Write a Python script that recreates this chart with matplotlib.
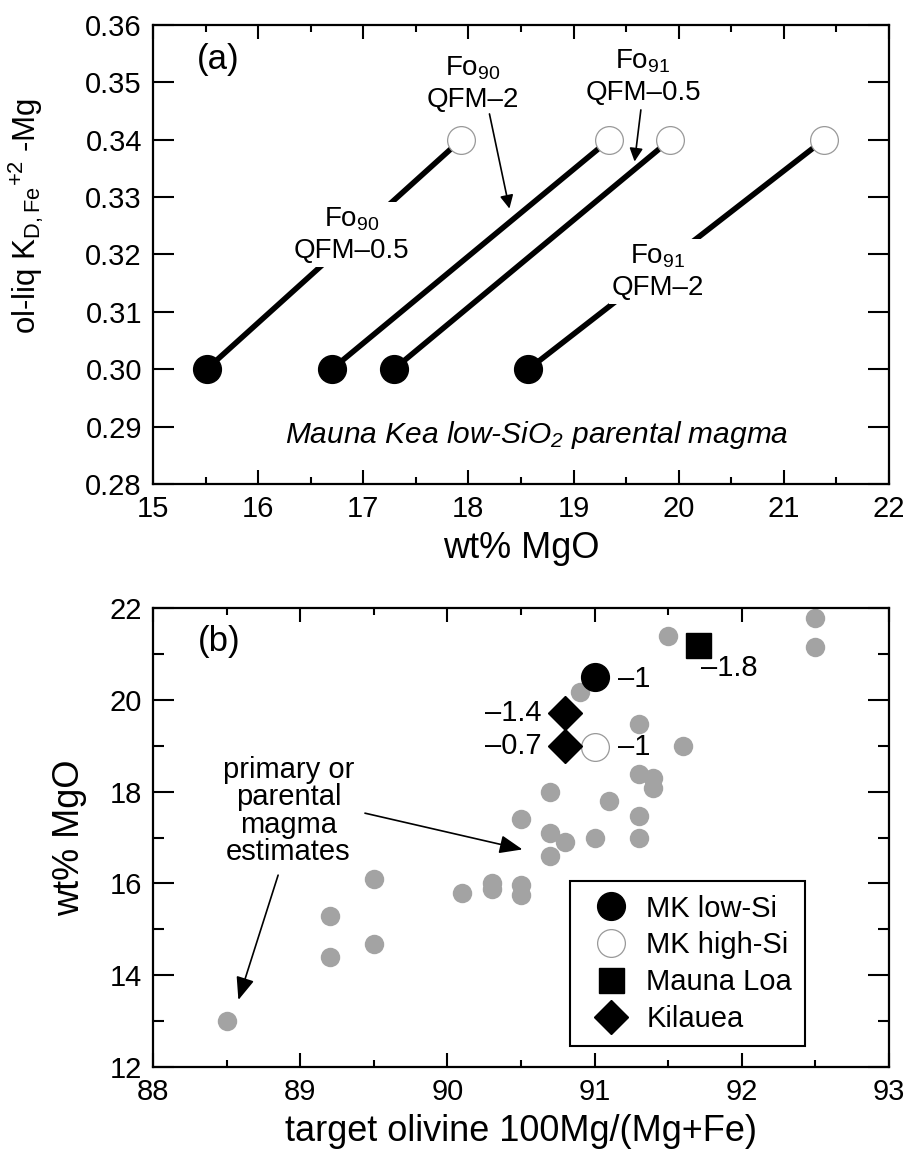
import matplotlib
matplotlib.use("Agg")
import matplotlib.pyplot as plt
from matplotlib.ticker import MultipleLocator, FormatStrFormatter

plt.rcParams["font.family"] = ["Liberation Sans", "DejaVu Sans"]
plt.rcParams["mathtext.fontset"] = "custom"
plt.rcParams["mathtext.rm"] = "Liberation Sans"
plt.rcParams["mathtext.it"] = "Liberation Sans:italic"
plt.rcParams["mathtext.bf"] = "Liberation Sans:bold"
plt.rcParams["mathtext.default"] = "regular"

# ---- panel (a): KD lines, MgO at KD=0.30 (filled) and 0.34 (open)
kd_low = 0.30
kd_high = 0.34
mgo_at_low = [15.51, 16.70, 17.29, 18.57]
mgo_at_high = [17.93, 19.34, 19.92, 21.38]

# labels: (text, x, y)
a_labels = [
    ("Fo$_{90}$\nQFM\u20130.5", 16.89, 0.3234),
    ("Fo$_{90}$\nQFM\u20132", 18.04, 0.3497),
    ("Fo$_{91}$\nQFM\u20130.5", 19.66, 0.3509),
    ("Fo$_{91}$\nQFM\u20132", 19.80, 0.3170),
]
# arrows: (tail x, tail y, tip x, tip y)
a_arrows = [
    (18.20, 0.3445, 18.39, 0.3280),
    (19.64, 0.3452, 19.58, 0.3362),
]

# ---- panel (b): target olivine Fo vs MgO
gray_fo = [91.5, 92.5, 92.5, 90.9, 91.3, 91.6, 91.3, 91.4, 91.4, 90.7,
           91.1, 90.5, 91.3, 90.7, 90.8, 91.0, 91.3, 90.7, 89.5, 90.1,
           90.3, 90.3, 90.5, 90.5, 89.2, 89.2, 89.5, 88.5]
gray_mgo = [21.4, 21.78, 21.15, 20.17, 19.48, 19.0, 18.38, 18.3, 18.07, 18.0,
            17.8, 17.4, 17.47, 17.1, 16.9, 17.0, 17.0, 16.6, 16.09, 15.8,
            16.0, 15.88, 15.97, 15.75, 15.29, 14.4, 14.69, 13.0]

mk_low_fo, mk_low_mgo = [91.0], [20.5]
mk_high_fo, mk_high_mgo = [91.0], [18.97]
mauna_loa_fo, mauna_loa_mgo = [91.7], [21.2]
kilauea_fo, kilauea_mgo = [90.8, 90.8], [19.72, 19.0]

# point labels: (text, x, y, ha)
b_labels = [
    ("\u20131", 91.16, 20.45, "left"),
    ("\u20131.8", 91.72, 20.69, "left"),
    ("\u20131.4", 90.64, 19.72, "right"),
    ("\u20130.7", 90.64, 19.0, "right"),
    ("\u20131", 91.16, 18.97, "left"),
]
b_arrows = [
    (89.44, 17.53, 90.51, 16.74),
    (88.85, 16.18, 88.58, 13.46),
]

W, H = 909, 1155
fig = plt.figure(figsize=(W / 100, H / 100), dpi=100)
ax1 = fig.add_axes([153 / W, 1 - 484 / H, 736 / W, 459 / H])
ax2 = fig.add_axes([153 / W, 1 - 1067 / H, 736 / W, 459 / H])


def style_axes(ax):
    for sp in ax.spines.values():
        sp.set_linewidth(1.6)
    ax.tick_params(which="both", direction="in", top=True, right=True,
                   width=1.5, labelsize=21, pad=8)
    ax.tick_params(axis="x", which="major", length=10)
    ax.tick_params(axis="x", which="minor", length=5)
    ax.tick_params(axis="y", which="major", length=15)
    ax.tick_params(axis="y", which="minor", length=8)


# ---------------- panel (a)
for x0, x1 in zip(mgo_at_low, mgo_at_high):
    ax1.plot([x0, x1], [kd_low, kd_high], color="k", lw=4, solid_capstyle="butt", zorder=2)
ax1.plot(mgo_at_low, [kd_low] * len(mgo_at_low), "o", ms=20, mfc="k", mec="k", zorder=4)
ax1.plot(mgo_at_high, [kd_high] * len(mgo_at_high), "o", ms=20, mfc="white",
         mec="#999999", mew=0.9, zorder=4)

for txt, x, y in a_labels:
    ax1.text(x, y, txt, ha="center", va="center", fontsize=20, linespacing=1.25,
             bbox=dict(facecolor="white", edgecolor="none", pad=2), zorder=3)
for x0, y0, x1, y1 in a_arrows:
    ax1.annotate("", xy=(x1, y1), xytext=(x0, y0),
                 arrowprops=dict(arrowstyle="-|>,head_length=0.4,head_width=0.2",
                                 color="k", lw=1.2, mutation_scale=20,
                                 shrinkA=0, shrinkB=0), zorder=5)

ax1.text(18.65, 0.2885, "Mauna Kea low-SiO$_2$ parental magma", ha="center", va="center",
         fontsize=21.5, style="italic")
ax1.text(0.060, 0.924, "(a)", transform=ax1.transAxes, fontsize=25, va="center")

ax1.set_xlim(15, 22)
ax1.set_ylim(0.28, 0.36)
ax1.xaxis.set_major_locator(MultipleLocator(1))
ax1.xaxis.set_minor_locator(MultipleLocator(0.5))
ax1.yaxis.set_major_locator(MultipleLocator(0.01))
ax1.yaxis.set_major_formatter(FormatStrFormatter("%.2f"))
style_axes(ax1)
ax1.set_xlabel("wt% MgO", fontsize=26, labelpad=6)
ax1.set_ylabel("ol-liq K$_{D,Fe}$$^{+2}$ -Mg", fontsize=22.5)
ax1.yaxis.set_label_coords(-0.145, 0.585)

# ---------------- panel (b)
ax2.plot(gray_fo, gray_mgo, "o", ms=14, color="#a3a3a3", mec="none", zorder=2)
ax2.plot(mk_low_fo, mk_low_mgo, "o", ms=20, mfc="k", mec="k", zorder=4, label="MK low-Si")
ax2.plot(mk_high_fo, mk_high_mgo, "o", ms=20, mfc="white", mec="#999999", mew=0.9,
         zorder=4, label="MK high-Si")
ax2.plot(mauna_loa_fo, mauna_loa_mgo, "s", ms=18, mfc="k", mec="k", zorder=4, label="Mauna Loa")
ax2.plot(kilauea_fo, kilauea_mgo, "D", ms=17, mfc="k", mec="k", zorder=4, label="Kilauea")

for txt, x, y, ha in b_labels:
    ax2.text(x, y, txt, ha=ha, va="center", fontsize=21)
ax2.text(88.92, 17.58, "primary or\nparental\nmagma\nestimates", ha="center", va="center",
         fontsize=21, linespacing=0.98)
for x0, y0, x1, y1 in b_arrows:
    ax2.annotate("", xy=(x1, y1), xytext=(x0, y0),
                 arrowprops=dict(arrowstyle="-|>,head_length=0.7,head_width=0.28",
                                 color="k", lw=1.2, mutation_scale=20,
                                 shrinkA=0, shrinkB=0), zorder=5)
ax2.text(0.061, 0.928, "(b)", transform=ax2.transAxes, fontsize=25, va="center")

ax2.set_xlim(88, 93)
ax2.set_ylim(12, 22)
ax2.xaxis.set_major_locator(MultipleLocator(1))
ax2.xaxis.set_minor_locator(MultipleLocator(0.5))
ax2.yaxis.set_major_locator(MultipleLocator(2))
ax2.yaxis.set_minor_locator(MultipleLocator(1))
style_axes(ax2)
ax2.set_xlabel("target olivine 100Mg/(Mg+Fe)", fontsize=26, labelpad=6)
ax2.set_ylabel("wt% MgO", fontsize=26)
ax2.yaxis.set_label_coords(-0.09, 0.5)

leg = ax2.legend(loc="lower right", bbox_to_anchor=(0.886, 0.046), fontsize=21,
                 frameon=True, fancybox=False, edgecolor="k", framealpha=1,
                 borderpad=0.45, handlelength=1.9, handletextpad=0.25,
                 labelspacing=0.3, borderaxespad=0)
leg.get_frame().set_linewidth(1.5)

fig.savefig("out.png", dpi=100)
